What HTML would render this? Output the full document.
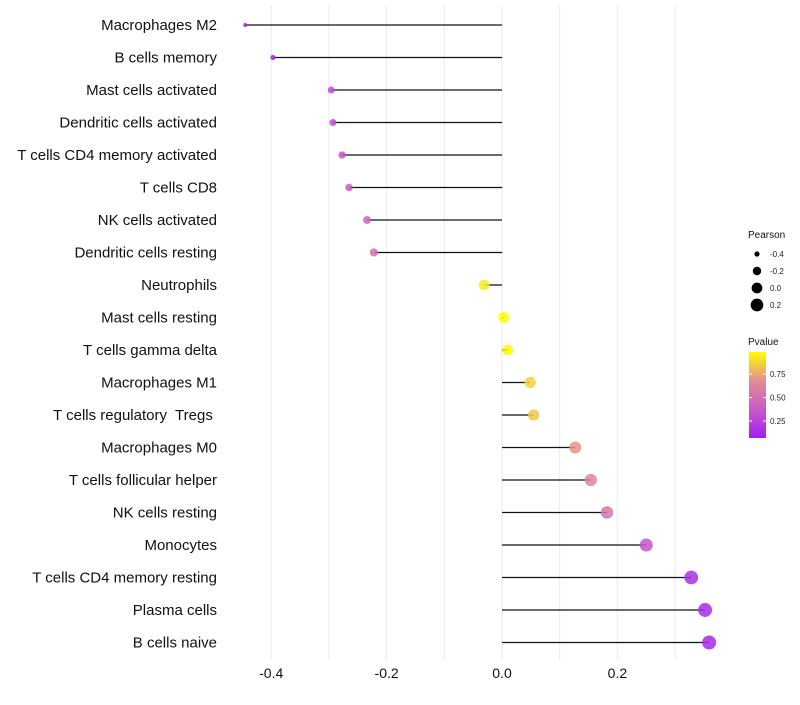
<!DOCTYPE html>
<html><head><meta charset="utf-8"><style>
body{margin:0;background:#fff;font-family:"Liberation Sans",sans-serif;}
</style></head><body>
<svg id="c" width="800" height="700" xmlns="http://www.w3.org/2000/svg" font-family="Liberation Sans, sans-serif"></svg>
<script>
const categories=["Macrophages M2","B cells memory","Mast cells activated","Dendritic cells activated","T cells CD4 memory activated","T cells CD8","NK cells activated","Dendritic cells resting","Neutrophils","Mast cells resting","T cells gamma delta","Macrophages M1","T cells regulatory  Tregs ","Macrophages M0","T cells follicular helper","NK cells resting","Monocytes","T cells CD4 memory resting","Plasma cells","B cells naive"];
const pearson=[-0.445,-0.397,-0.296,-0.293,-0.277,-0.265,-0.234,-0.222,-0.031,0.003,0.010,0.049,0.055,0.127,0.154,0.182,0.250,0.328,0.352,0.359];
const pvalue=[0.06,0.1,0.3,0.31,0.35,0.38,0.45,0.5,0.93,0.99,0.97,0.87,0.84,0.7,0.64,0.55,0.35,0.15,0.13,0.12];
const xTicks=[-0.4,-0.2,0.0,0.2];
const xTickLabels=["-0.4","-0.2","0.0","0.2"];
const minorTicks=[-0.3,-0.1,0.1,0.3];
const legendSizes=[-0.4,-0.2,0.0,0.2];
const legendSizeLabels=["-0.4","-0.2","0.0","0.2"];
const pTicks=[0.25,0.5,0.75];
const pTickLabels=["0.25","0.50","0.75"];

const svg=document.getElementById('c');
const NS="http://www.w3.org/2000/svg";
function el(t,a,p){const e=document.createElementNS(NS,t);for(const k in a)e.setAttribute(k,a[k]);(p||svg).appendChild(e);return e;}
const x=v=>502+v*577;
const y=i=>25+i*32.5;
const r=v=>Math.sqrt(Math.max(3,29+56*v));
function lerp(a,b,t){return a.map((c,i)=>Math.round(c+(b[i]-c)*t));}
function col(p){const t=(p-0.07)/(0.985-0.07);const s=[[160,32,240],[200,90,200],[225,140,150],[255,255,0]];
 const tt=Math.min(1,Math.max(0,t))*3;const k=Math.min(2,Math.floor(tt));const c=lerp(s[k],s[k+1],tt-k);return `rgb(${c})`;}

[...xTicks,...minorTicks].forEach(v=>{const g=el('line',{x1:x(v),x2:x(v),y1:5,y2:660,stroke:'#ebebeb','stroke-width':1});
});
xTicks.forEach((v,i)=>{const t=el('text',{x:x(v),y:678,'text-anchor':'middle','font-size':14,fill:'#111'});t.textContent=xTickLabels[i];
});
categories.forEach((c,i)=>{
 const t=el('text',{x:217,y:y(i)+5,'text-anchor':'end','font-size':15,fill:'#111',style:'white-space:pre'});t.textContent=c;
 
 const l=el('line',{x1:x(0),x2:x(pearson[i]),y1:y(i),y2:y(i),stroke:'#111','stroke-width':1.3});
 
 const d=el('circle',{cx:x(pearson[i]),cy:y(i),r:r(pearson[i]),fill:col(pvalue[i]),'fill-opacity':0.85});
 
});
let t=el('text',{x:748,y:238,'font-size':10,fill:'#111'});t.textContent='Pearson';

legendSizes.forEach((v,i)=>{const cy=254+i*17;const c=el('circle',{cx:757,cy:cy,r:r(v),fill:'#000'});

const tt=el('text',{x:770,y:cy+3,'font-size':8,fill:'#222'});tt.textContent=legendSizeLabels[i];
});
t=el('text',{x:748,y:345,'font-size':10,fill:'#111'});t.textContent='Pvalue';

const defs=el('defs',{});const lg=el('linearGradient',{id:'g',x1:0,y1:1,x2:0,y2:0},defs);
[0,0.33,0.66,1].forEach(o=>el('stop',{offset:o,'stop-color':col(0.07+o*(0.985-0.07))},lg));
const cb=el('rect',{x:749,y:352,width:17,height:86,fill:'url(#g)'});

const py=p=>438-(p-0.07)/(0.985-0.07)*86;
pTicks.forEach((p,i)=>{el('line',{x1:749,x2:752,y1:py(p),y2:py(p),stroke:'#fff'});el('line',{x1:763,x2:766,y1:py(p),y2:py(p),stroke:'#fff'});
const tt=el('text',{x:770,y:py(p)+3,'font-size':8,fill:'#222'});tt.textContent=pTickLabels[i];
});
</script>
</body></html>
